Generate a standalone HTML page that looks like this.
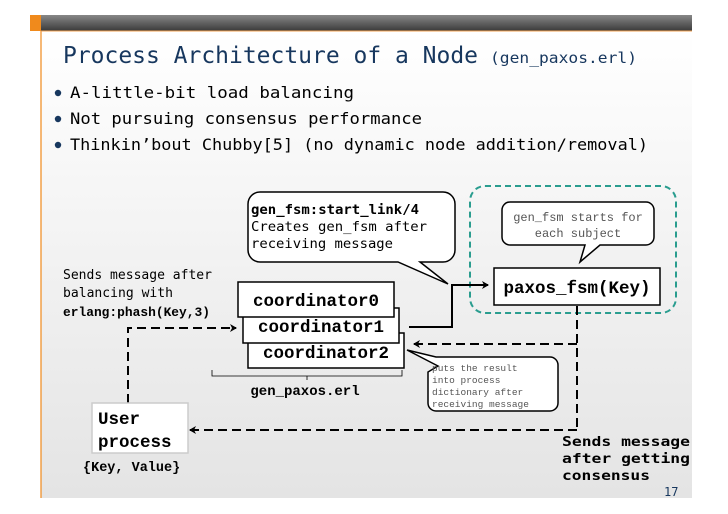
<!DOCTYPE html>
<html><head><meta charset="utf-8"><style>
body{margin:0;width:728px;height:514px;background:#fff;overflow:hidden}
svg{display:block}
.m{font-family:"Liberation Mono",monospace}
.s{font-family:"DejaVu Sans Mono","Liberation Mono",monospace}
</style></head><body>
<svg width="728" height="514" viewBox="0 0 728 514">
<defs>
<linearGradient id="hb" x1="0" y1="0" x2="0" y2="1"><stop offset="0" stop-color="#888"/><stop offset="1" stop-color="#3a3a3a"/></linearGradient>
<linearGradient id="bg" x1="0" y1="0" x2="0" y2="1"><stop offset="0" stop-color="#fff"/><stop offset="1" stop-color="#e4e4e4"/></linearGradient>
<marker id="a" markerWidth="8" markerHeight="8" refX="6" refY="4" orient="auto" markerUnits="userSpaceOnUse"><path d="M0,0 L7,4 L0,8 L2,4z" fill="#000"/></marker>
</defs>
<rect x="41" y="31" width="651" height="467" fill="url(#bg)"/>
<rect x="30" y="15" width="662" height="16" fill="url(#hb)"/>
<rect x="30" y="15" width="11" height="16" fill="#f08a1c"/>
<line x1="41" y1="31" x2="41" y2="498" stroke="#f08a1c" stroke-width="1.2"/>
<line x1="41" y1="31" x2="692" y2="31" stroke="#f0a050" stroke-width="1"/>
<text x="63" y="63" class="s" font-size="23" fill="#17375e"><tspan textLength="415" lengthAdjust="spacingAndGlyphs">Process Architecture of a Node</tspan></text>
<text x="490" y="63" class="s" font-size="15" fill="#17375e" textLength="147" lengthAdjust="spacingAndGlyphs">(gen_paxos.erl)</text>
<g class="s" font-size="16" fill="#000">
<circle cx="58" cy="93" r="3.2" fill="#17375e"/><text x="70" y="98" textLength="284" lengthAdjust="spacingAndGlyphs">A-little-bit load balancing</text>
<circle cx="58" cy="119" r="3.2" fill="#17375e"/><text x="70" y="124" textLength="352" lengthAdjust="spacingAndGlyphs">Not pursuing consensus performance</text>
<circle cx="58" cy="145" r="3.2" fill="#17375e"/><text x="70" y="150" textLength="578" lengthAdjust="spacingAndGlyphs">Thinkin’bout Chubby[5] (no dynamic node addition/removal)</text>
</g>
<rect x="470" y="186" width="206" height="127" rx="15" fill="none" stroke="#2a9d8f" stroke-width="2" stroke-dasharray="6,4"/>
<path d="M260,192 H443 a12,12 0 0 1 12,12 V250 a12,12 0 0 1 -12,12 H420 L448,284 L398,262 H260 a12,12 0 0 1 -12,-12 V204 a12,12 0 0 1 12,-12z" fill="#fff" stroke="#000" stroke-width="1.5"/>
<g class="s" font-size="13.5"><text x="251" y="214" font-weight="bold" textLength="168" lengthAdjust="spacingAndGlyphs">gen_fsm:start_link/4</text><text x="251" y="231" textLength="176" lengthAdjust="spacingAndGlyphs">Creates gen_fsm after</text><text x="251" y="248" textLength="142" lengthAdjust="spacingAndGlyphs">receiving message</text></g>
<path d="M510,202 H646 a8,8 0 0 1 8,8 V237 a8,8 0 0 1 -8,8 H600 L580,262 L585,245 H510 a8,8 0 0 1 -8,-8 V210 a8,8 0 0 1 8,-8z" fill="#fff" stroke="#000" stroke-width="1.5"/>
<g class="m" font-size="12" fill="#555" text-anchor="middle"><text x="578" y="221">gen_fsm starts for</text><text x="578" y="237">each subject</text></g>
<rect x="494" y="268" width="166" height="37" fill="#fff" stroke="#000" stroke-width="1.5"/>
<text x="577" y="293" class="m" font-size="17.5" font-weight="bold" text-anchor="middle">paxos_fsm(Key)</text>
<rect x="248" y="333" width="156" height="35" fill="#fff" stroke="#000" stroke-width="1.5"/>
<rect x="243" y="308" width="156" height="35" fill="#fff" stroke="#000" stroke-width="1.5"/>
<rect x="238" y="282" width="156" height="35" fill="#fff" stroke="#000" stroke-width="1.5"/>
<g class="m" font-size="17.5" font-weight="bold" text-anchor="middle"><text x="316" y="306">coordinator0</text><text x="321" y="332">coordinator1</text><text x="326" y="358">coordinator2</text></g>
<polyline points="409,327 452,327 452,285 488,285" fill="none" stroke="#000" stroke-width="2" marker-end="url(#a)"/>
<g fill="none" stroke="#000" stroke-width="2" stroke-dasharray="9,5">
<line x1="577" y1="306" x2="577" y2="430"/>
<line x1="577" y1="344" x2="414" y2="344" marker-end="url(#a)"/>
<line x1="577" y1="430" x2="190" y2="430" marker-end="url(#a)"/>
<polyline points="128,403 128,328 236,328" marker-end="url(#a)"/>
</g>
<path d="M436,357 H550 a8,8 0 0 1 8,8 V403 a8,8 0 0 1 -8,8 H436 a8,8 0 0 1 -8,-8 V372 L438,366 L407,350z" fill="#fff" stroke="#000" stroke-width="1.5"/>
<g class="m" font-size="9.5" fill="#555"><text x="432" y="371">puts the result</text><text x="432" y="383">into process</text><text x="432" y="395">dictionary after</text><text x="432" y="407">receiving message</text></g>
<path d="M212,370 V376 H402 V370 M307,376 V380" fill="none" stroke="#000" stroke-width="0.8"/>
<text x="305" y="395" class="m" font-size="14" font-weight="bold" text-anchor="middle">gen_paxos.erl</text>
<rect x="92" y="403" width="96" height="50" fill="#fff" stroke="#ccc" stroke-width="1.5"/>
<g class="m" font-size="17.5" font-weight="bold"><text x="98" y="424">User</text><text x="98" y="447">process</text></g>
<text x="83" y="471" class="m" font-size="13.5" font-weight="bold">{Key, Value}</text>
<g class="s" font-size="13"><text x="63" y="279" textLength="149" lengthAdjust="spacingAndGlyphs">Sends message after</text><text x="63" y="297" textLength="110" lengthAdjust="spacingAndGlyphs">balancing with</text><text x="63" y="316" class="m" font-weight="bold" textLength="147" lengthAdjust="spacingAndGlyphs">erlang:phash(Key,3)</text></g>
<g class="s" font-size="13" font-weight="bold"><text x="562" y="446" textLength="128" lengthAdjust="spacingAndGlyphs">Sends message</text><text x="562" y="463" textLength="128" lengthAdjust="spacingAndGlyphs">after getting</text><text x="562" y="480" textLength="88" lengthAdjust="spacingAndGlyphs">consensus</text></g>
<text x="664" y="496" class="s" font-size="12" fill="#17375e">17</text>
</svg>
</body></html>
